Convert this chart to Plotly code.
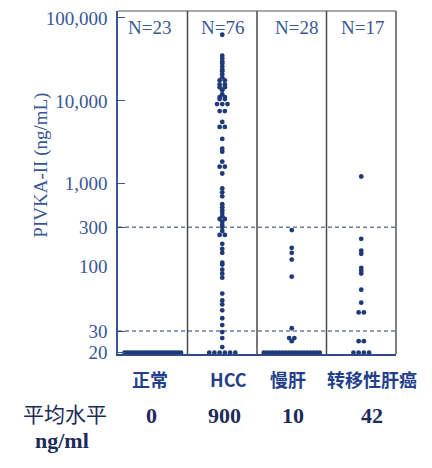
from collections import Counter, defaultdict

import plotly.graph_objects as go
from plotly.subplots import make_subplots

# Data (ng/mL); 20 = detection floor
categories = ["正常", "HCC", "慢肝", "转移性肝癌"]
n_labels = ["N=23", "N=76", "N=28", "N=17"]
mean_levels = ["0", "900", "10", "42"]

normal = [20, 20, 20, 20, 20, 20, 20, 20, 20, 20, 20, 20,
          20, 20, 20, 20, 20, 20, 20, 20, 20, 20, 20]
hcc = [62700,
       35100, 32400, 29800, 28200, 26000, 23900, 22700, 20900, 19200,
       17700, 17700, 15800, 15800, 14600, 14600, 13400, 12000, 11100, 11100,
       10500, 10500,
       9140, 9140, 9140, 7530, 7530,
       5570, 4850, 4850,
       3480, 2650, 2440, 1850, 1610, 1610, 1330,
       880, 790, 706,
       568, 522, 481, 443, 407, 376, 376, 346, 318, 301, 270,
       242, 242, 189, 164, 147, 112, 106,
       94.6, 87.8, 81.5, 60.5, 53.2, 49.4, 44.2, 38.1, 33.5, 29.4, 26.3, 22.2,
       20, 20, 20, 20, 20, 20]
chronic = [277, 169, 147, 122, 83, 31.6, 26.3, 26.3, 24.8,
           20, 20, 20, 20, 20, 20, 20, 20, 20, 20,
           20, 20, 20, 20, 20, 20, 20, 20, 20]
metastatic = [1225, 217, 156, 143, 98, 93, 88, 65, 51, 42.5, 42.5,
              24.8, 24.8, 20, 20, 20, 20]
groups = [normal, hcc, chronic, metastatic]

upper_ticks = [100, 300, 1000, 10000, 100000]
upper_text = ["100", "300", "1,000", "10,000", "100,000"]
lower_ticks = [20, 30]
lower_text = ["20", "30"]
cutoffs = [300, 30]

DOT = "#1f3a78"
BLUE = "#3a5795"
NAVY = "#1c2a5a"
SERIF = "Liberation Serif"
CJK = "Noto Sans CJK SC"


def swarm(vals, idx):
    # spread identical values side by side around the category centre
    counts = Counter(vals)
    seen = defaultdict(int)
    xs = []
    for v in vals:
        n = counts[v]
        d = min(0.075, 0.85 / n)
        k = seen[v]
        seen[v] += 1
        xs.append(idx + (k - (n - 1) / 2) * d)
    return xs


fig = make_subplots(rows=2, cols=1, shared_xaxes=True, vertical_spacing=0,
                    row_heights=[258, 88])

for i, vals in enumerate(groups):
    xs = swarm(vals, i)
    hi = [(x, v) for x, v in zip(xs, vals) if v >= 100]
    lo = [(x, v) for x, v in zip(xs, vals) if v < 100]
    for row, pts in ((1, hi), (2, lo)):
        if not pts:
            continue
        fig.add_trace(go.Scatter(x=[p[0] for p in pts], y=[p[1] for p in pts],
                                 mode="markers", cliponaxis=False,
                                 marker=dict(size=4.8, color=DOT),
                                 showlegend=False), row=row, col=1)

dash_line = dict(color="#22386e", width=1, dash="4px,3px")
fig.add_hline(y=cutoffs[0], line=dash_line, row=1, col=1)
fig.add_hline(y=cutoffs[1], line=dash_line, row=2, col=1)

# column separators and outer frame
for sep in [0.5, 1.5, 2.5]:
    fig.add_shape(type="line", xref="x", yref="paper", x0=sep, x1=sep, y0=0, y1=1,
                  line=dict(color="#4a4a4a", width=1.5))
fig.add_shape(type="line", xref="paper", yref="paper", x0=1, x1=1, y0=0, y1=1,
              line=dict(color="#555555", width=1.5))
fig.add_shape(type="line", xref="paper", yref="paper", x0=0, x1=1, y0=1, y1=1,
              line=dict(color="#555555", width=1.2))

fig.update_xaxes(range=[-0.5, 3.5], showticklabels=False, ticks="", showgrid=False,
                 zeroline=False)
fig.update_xaxes(showline=True, linecolor="#2e4a8a", linewidth=1.5, row=2, col=1)

axis_style = dict(type="log", showgrid=False, zeroline=False, showline=True,
                  linecolor=BLUE, linewidth=1.5, ticks="inside", ticklen=7,
                  tickwidth=1.2, tickcolor=BLUE, ticklabelstandoff=5,
                  ticklabeloverflow="allow",
                  tickfont=dict(family=SERIF, size=19, color=BLUE))
fig.update_yaxes(range=[1.9995, 5.0836], tickvals=upper_ticks, ticktext=upper_text,
                 row=1, col=1, **axis_style)
fig.update_yaxes(range=[1.29, 2], tickvals=lower_ticks, ticktext=lower_text,
                 row=2, col=1, **axis_style)

centre = dict(xanchor="center", yanchor="middle", showarrow=False)
ann = []
ann.append(dict(text="PIVKA-II (ng/mL)", xref="paper", yref="paper", x=-0.277, y=0.552,
                textangle=-90, font=dict(family=SERIF, size=19, color=BLUE), **centre))
n_shift = [-3, 0, 5, 1]
cat_shift = [-3, 6, -4, 11]
mean_shift = [-1, 2, 1, 11]
for i in range(len(categories)):
    ann.append(dict(text=n_labels[i], xref="x", yref="paper", x=i, y=0.951,
                    xshift=n_shift[i], font=dict(family=SERIF, size=19, color=BLUE),
                    **centre))
    ann.append(dict(text="<b>%s</b>" % categories[i], xref="x", yref="paper", x=i,
                    y=-0.0723, xshift=cat_shift[i],
                    font=dict(family=CJK, size=18, color="#233f8c"), **centre))
    ann.append(dict(text="<b>%s</b>" % mean_levels[i], xref="x", yref="paper", x=i,
                    y=-0.179, xshift=mean_shift[i],
                    font=dict(family=SERIF, size=22, color=NAVY), **centre))
ann.append(dict(text="平均水平", xref="paper", yref="paper", x=-0.1906, y=-0.172,
                font=dict(family=CJK, size=21, color=NAVY), **centre))
ann.append(dict(text="<b>ng/ml</b>", xref="paper", yref="paper", x=-0.2014, y=-0.2514,
                font=dict(family=SERIF, size=22, color=NAVY), **centre))

# page body adds 8px, so the figure is 8px smaller on each leading side
fig.update_layout(width=424, height=460, margin=dict(l=110, r=36, t=0, b=114),
                  plot_bgcolor="white", paper_bgcolor="white", annotations=ann,
                  showlegend=False)
fig.write_html("out.html")
